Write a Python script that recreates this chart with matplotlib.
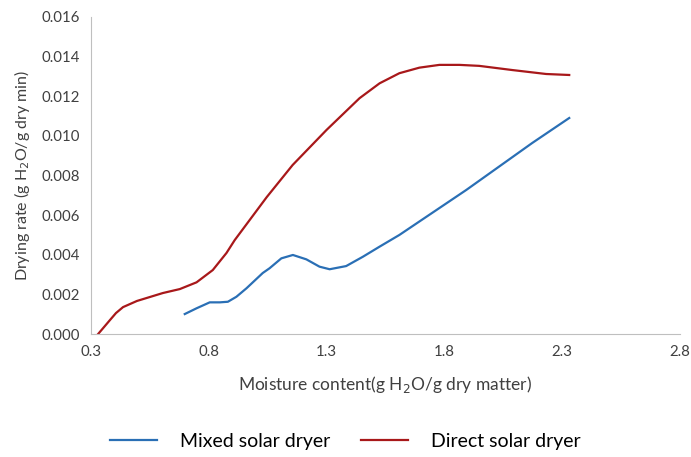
import matplotlib
matplotlib.use('Agg')
import matplotlib.pyplot as plt

# Mixed solar dryer
mixed_x = [0.698, 0.748, 0.804, 0.847, 0.881, 0.917, 0.960, 1.029, 1.058,
           1.108, 1.157, 1.214, 1.270, 1.313, 1.383, 1.454, 1.525, 1.609,
           1.893, 2.173, 2.330]
mixed_y = [0.00101, 0.00130, 0.00160, 0.00160, 0.00163, 0.00188, 0.00231,
           0.00308, 0.00332, 0.00382, 0.00399, 0.00377, 0.00340, 0.00327,
           0.00343, 0.00390, 0.00441, 0.00500, 0.00727, 0.00964, 0.01090]

# Direct solar dryer
direct_x = [0.330, 0.380, 0.406, 0.436, 0.495, 0.605, 0.677, 0.748, 0.817,
            0.875, 0.910, 1.046, 1.156, 1.300, 1.440, 1.525, 1.609, 1.694,
            1.779, 1.864, 1.948, 2.088, 2.232, 2.330]
direct_y = [0.0, 0.0007, 0.00106, 0.00136, 0.00167, 0.00207, 0.00227,
            0.00261, 0.00323, 0.00409, 0.00474, 0.00691, 0.00853, 0.01030,
            0.01190, 0.01265, 0.01316, 0.01344, 0.01358, 0.01358, 0.01353,
            0.01332, 0.01312, 0.01307]

x_ticks = [0.3, 0.8, 1.3, 1.8, 2.3, 2.8]
y_ticks = [0.000, 0.002, 0.004, 0.006, 0.008, 0.010, 0.012, 0.014, 0.016]

plt.rcParams['font.family'] = ['Lato', 'DejaVu Sans']

fig = plt.figure(figsize=(6.91, 4.57), dpi=100)
axes = fig.add_axes([0.1317, 0.269, 0.8523, 0.694])

line1, = axes.plot(mixed_x, mixed_y, color='#2a6fb5', linewidth=1.6,
                   label='Mixed solar dryer', solid_joinstyle='round')
line2, = axes.plot(direct_x, direct_y, color='#a8181a', linewidth=1.6,
                   label='Direct solar dryer', solid_joinstyle='round')

axes.set_xlim(0.3, 2.8)
axes.set_ylim(0, 0.016)
axes.set_xticks(x_ticks)
axes.set_xticklabels(['{:.1f}'.format(v) for v in x_ticks])
axes.set_yticks(y_ticks)
axes.set_yticklabels(['{:.3f}'.format(v) for v in y_ticks])
axes.tick_params(length=0, labelsize=10.8, labelcolor='#404040', pad=8)

for side in ['top', 'right']:
    axes.spines[side].set_visible(False)
for side in ['left', 'bottom']:
    axes.spines[side].set_color('#bfbfbf')

axes.set_xlabel('Moisture content(g H$_2$O/g dry matter)', fontsize=12.5,
                color='#404040', labelpad=11)
axes.set_ylabel('Drying rate (g H$_2$O/g dry min)', fontsize=11.5,
                color='#404040', labelpad=7)

fig.legend(handles=[line1, line2], loc='center', ncol=2,
           bbox_to_anchor=(0.5, 0.035), frameon=False, fontsize=14,
           handlelength=2.4, handletextpad=1.2, columnspacing=1.6)

fig.savefig('out.png', dpi=100)
